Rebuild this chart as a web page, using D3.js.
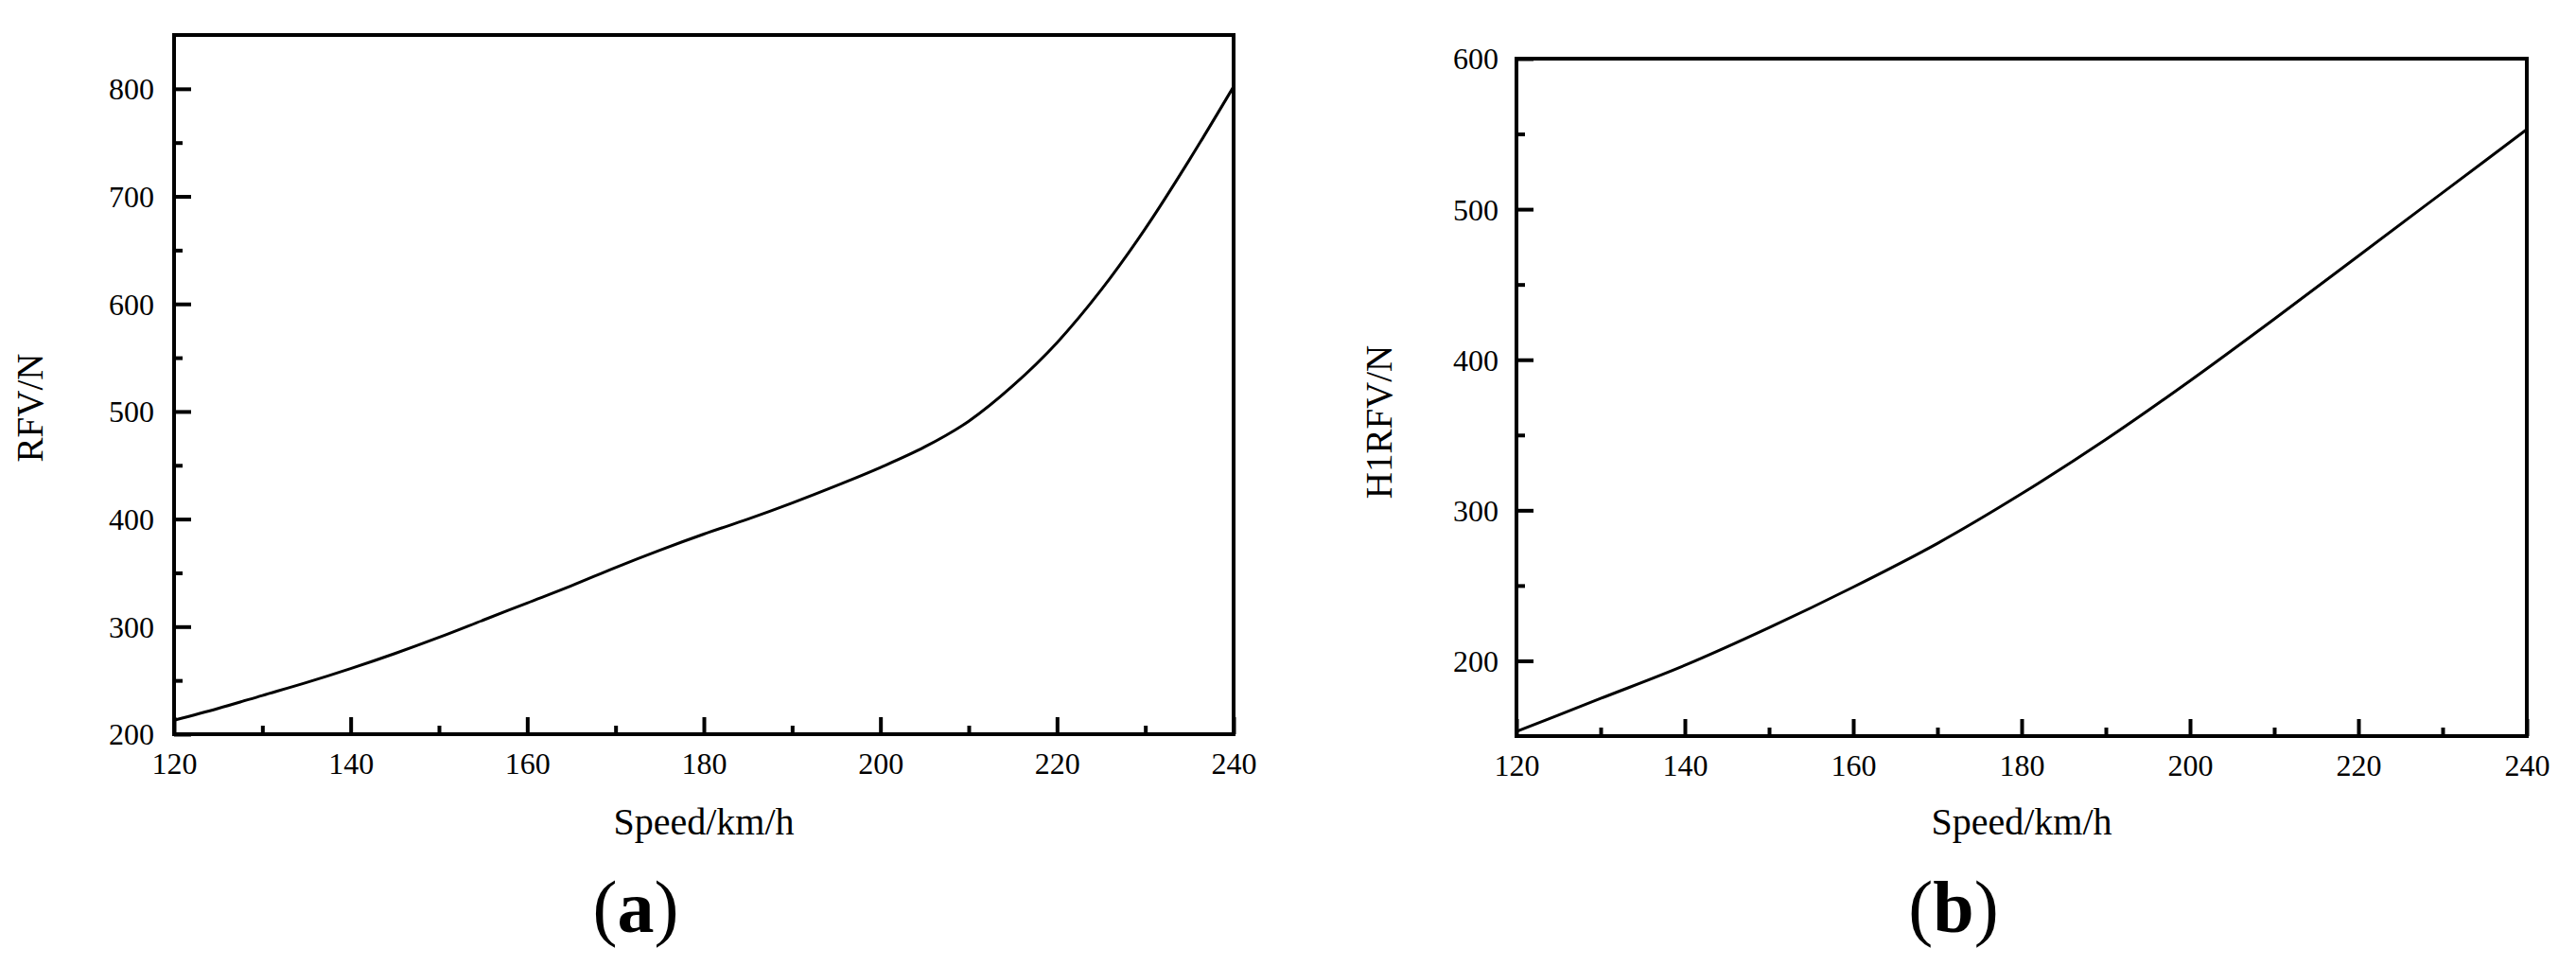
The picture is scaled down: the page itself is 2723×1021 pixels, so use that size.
<!DOCTYPE html>
<html>
<head>
<meta charset="utf-8">
<script src="https://cdn.jsdelivr.net/npm/d3@7"></script>
<style>
  html, body { margin: 0; padding: 0; background: #fff; }
  svg { display: block; }
  text { font-family: "Liberation Serif", "Times New Roman", serif; fill: #000; }
</style>
</head>
<body>
<svg id="chart" width="2723" height="1021"></svg>
<script>
// ---- data ----
const speedA = [120,125,130,135,140,145,150,155,160,165,170,175,180,185,190,195,200,205,210,215,220,225,230,235,240];
const rfv    = [213,224,236,248,261,275,290,306,322,338,355,371,386,400,415,431,448,467,491,524,564,613,670,734,802];

const speedB = [120,130,140,150,160,170,180,190,200,210,220,230,240];
const h1rfv  = [153,175,197,222,249,278,311,347,386,427,469,511,553];

const xTicks = [120,140,160,180,200,220,240];
const xMinor = [130,150,170,190,210,230];
const yTicksA = [200,300,400,500,600,700,800];
const yMinorA = [250,350,450,550,650,750];
const yTicksB = [200,300,400,500,600];
const yMinorB = [250,350,450,550];

const svg = d3.select("#chart");

function panel(cfg) {
  const g = svg.append("g");
  const x = d3.scaleLinear().domain([120, 240]).range([cfg.x0, cfg.x1]);
  const y = d3.scaleLinear().domain(cfg.yDomain).range([cfg.y1, cfg.y0]);

  // minor ticks
  g.append("g").attr("transform", `translate(0,${cfg.y1})`)
    .call(d3.axisBottom(x).tickValues(xMinor).tickSizeInner(-9).tickSizeOuter(0).tickFormat(""))
    .call(s => s.select(".domain").remove());
  g.append("g").attr("transform", `translate(${cfg.x0},0)`)
    .call(d3.axisLeft(y).tickValues(cfg.yMinor).tickSizeInner(-9).tickSizeOuter(0).tickFormat(""))
    .call(s => s.select(".domain").remove());

  // major ticks
  const xa = g.append("g").attr("transform", `translate(0,${cfg.y1})`)
    .call(d3.axisBottom(x).tickValues(xTicks).tickSizeInner(-18).tickSizeOuter(0).tickPadding(0).tickFormat(d3.format("d")));
  xa.select(".domain").remove();
  xa.selectAll("text").attr("y", 42).attr("dy", null).style("font-size", "32px");

  const ya = g.append("g").attr("transform", `translate(${cfg.x0},0)`)
    .call(d3.axisLeft(y).tickValues(cfg.yTicks).tickSizeInner(-18).tickSizeOuter(0).tickPadding(cfg.yPad).tickFormat(d3.format("d")));
  ya.select(".domain").remove();
  ya.selectAll("text").attr("dy", "0.34em").style("font-size", "32px");

  g.selectAll(".tick line").attr("stroke", "#000").attr("stroke-width", 4);

  // frame
  g.append("rect")
    .attr("x", cfg.x0).attr("y", cfg.y0)
    .attr("width", cfg.x1 - cfg.x0).attr("height", cfg.y1 - cfg.y0)
    .attr("fill", "none").attr("stroke", "#000").attr("stroke-width", 4);

  // curve
  const line = d3.line().x(d => x(d[0])).y(d => y(d[1])).curve(d3.curveMonotoneX);
  g.append("path")
    .datum(cfg.xs.map((s, i) => [s, cfg.ys[i]]))
    .attr("d", line)
    .attr("fill", "none").attr("stroke", "#000").attr("stroke-width", 3);

  // axis titles
  g.append("text")
    .attr("x", (cfg.x0 + cfg.x1) / 2).attr("y", 882)
    .attr("text-anchor", "middle").style("font-size", "40px")
    .text("Speed/km/h");
  g.append("text")
    .attr("transform", `translate(${cfg.ytX},${cfg.ytY}) rotate(-90)`)
    .attr("text-anchor", "middle").attr("dy", "0.34em").style("font-size", "39px")
    .text(cfg.yTitle);

  // panel label
  const lab = g.append("text")
    .attr("x", (cfg.x0 + cfg.x1) / 2 - 72).attr("y", 985)
    .attr("text-anchor", "middle").style("font-size", "78px");
  lab.append("tspan").text("(");
  lab.append("tspan").attr("font-weight", "bold").text(cfg.label);
  lab.append("tspan").text(")");
}

panel({
  x0: 184, x1: 1304, y0: 37, y1: 776,
  yDomain: [200, 850], yTicks: yTicksA, yMinor: yMinorA, yPad: 21,
  xs: speedA, ys: rfv,
  yTitle: "RFV/N", ytX: 32, ytY: 431, label: "a"
});

panel({
  x0: 1603, x1: 2671, y0: 62, y1: 778,
  yDomain: [150, 600], yTicks: yTicksB, yMinor: yMinorB, yPad: 19,
  xs: speedB, ys: h1rfv,
  yTitle: "H1RFV/N", ytX: 1458, ytY: 446, label: "b"
});
</script>
</body>
</html>
